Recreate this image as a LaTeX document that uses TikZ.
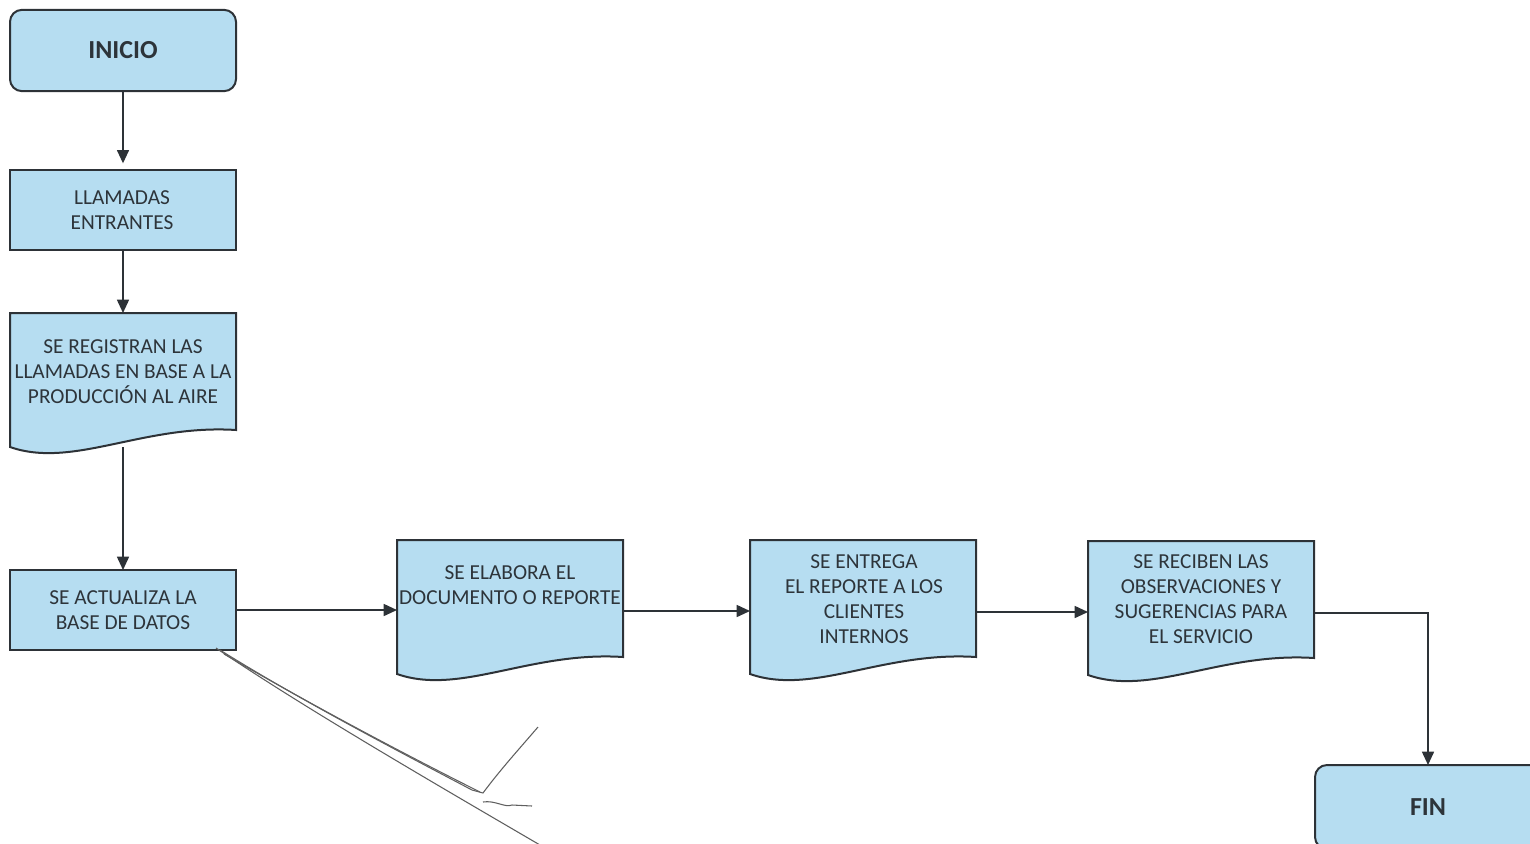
\documentclass[tikz,border=0pt]{standalone}
\usepackage{fontspec}
\setmainfont{Carlito}
\usetikzlibrary{arrows.meta,calc}
\definecolor{boxfill}{RGB}{182,221,241}
\definecolor{boxline}{RGB}{45,50,55}
\definecolor{txt}{RGB}{45,52,58}
\definecolor{sig}{RGB}{95,95,95}
\tikzset{
  procbox/.style={draw=boxline,fill=boxfill,line width=1.5pt,minimum width=169.5pt,minimum height=60pt,inner sep=0pt,outer sep=0pt},
  termbox/.style={procbox,rounded corners=9pt,minimum height=61pt},
  docnode/.style={minimum width=169.5pt,minimum height=100.5pt,inner sep=0pt,outer sep=0pt,anchor=north west},
  docshape/.style={draw=boxline,fill=boxfill,line width=1.5pt},
  body/.style={text=txt,align=center,font=\fontsize{16}{18.75}\selectfont,inner sep=0pt},
  bold/.style={text=txt,font=\fontsize{19.5}{22}\selectfont\bfseries,inner sep=0pt},
  arr/.style={draw=boxline,line width=1.2pt,-{Triangle[length=10pt,width=9pt]}},
  sigline/.style={draw=sig,line width=0.8pt}
}
\newcommand\drawdoc[1]{%
  \path[docshape] (#1.north west) -- (#1.north east) -- ($(#1.north east)+(0,117)$)
    .. controls ($(#1.north west)+(133,111)$) and ($(#1.north west)+(63,156)$) ..
    ($(#1.north west)+(0,134)$) -- cycle;}
\begin{document}
\begin{tikzpicture}[x=0.75pt,y=-0.75pt]
\useasboundingbox (0,0) rectangle (1530,843);
% terminals and process boxes
\node[termbox] (ini) at (123,50.5) {};
\node[bold] (initxt) at (123,50.5) {INICIO};
\node[procbox] (lla) at (123,210) {};
\node[body] (llatxt) at (122,210.5) {LLAMADAS\\ENTRANTES};
\node[procbox] (act) at (123,610) {};
\node[body] (acttxt) at (123,610.5) {SE ACTUALIZA LA\\BASE DE DATOS};
% documents
\node[docnode] (reg) at (10,313) {};
\drawdoc{reg}
\node[body] (regtxt) at (123,372) {SE REGISTRAN LAS\\LLAMADAS EN BASE A LA\\PRODUCCIÓN AL AIRE};
\node[docnode] (elab) at (397,540) {};
\drawdoc{elab}
\node[body] (elabtxt) at (510,585) {SE ELABORA EL\\DOCUMENTO O REPORTE};
\node[docnode] (entr) at (750,540) {};
\drawdoc{entr}
\node[body] (entrtxt) at (864,599.5) {SE ENTREGA\\EL REPORTE A LOS\\CLIENTES\\INTERNOS};
\node[docnode] (reci) at (1088,541) {};
\drawdoc{reci}
\node[body] (recitxt) at (1201,599.5) {SE RECIBEN LAS\\OBSERVACIONES Y\\SUGERENCIAS PARA\\EL SERVICIO};
% FIN (partly off the page)
\node[termbox,minimum height=63pt] (fin) at (1428,807) {};
\node[bold] (fintxt) at (1428,807) {FIN};
% connectors
\coordinate (c1) at ($(elab.north east)+(0,71)$);
\coordinate (c2) at ($(entr.north east)+(0,72)$);
\coordinate (c3) at ($(reci.north east)+(0,72)$);
\draw[arr,shorten >=5pt] (ini.south) -- (lla.north);
\draw[arr] (lla.south) -- (reg.north);
\draw[arr] (reg.south) -- (act.north);
\draw[arr] (act.east) -- (act.east -| elab.west);
\draw[arr] (c1) -- (c1 -| entr.west);
\draw[arr] (c2) -- (c2 -| reci.west);
\draw[arr] (c3) -| (fin.north);
% handwritten signature strokes
\draw[sigline] (220,650) .. controls (300,700) and (400,752) .. (472,790) -- (483,793) .. controls (500,770) and (520,748) .. (538,727);
\draw[sigline] (216,648) .. controls (300,705) and (420,775) .. (540,845);
\draw[sigline] (224,654) .. controls (320,710) and (420,762) .. (480,792);
\draw[sigline] (483,802) .. controls (495,800) and (505,808) .. (512,805) -- (532,806);
\end{tikzpicture}
\end{document}
